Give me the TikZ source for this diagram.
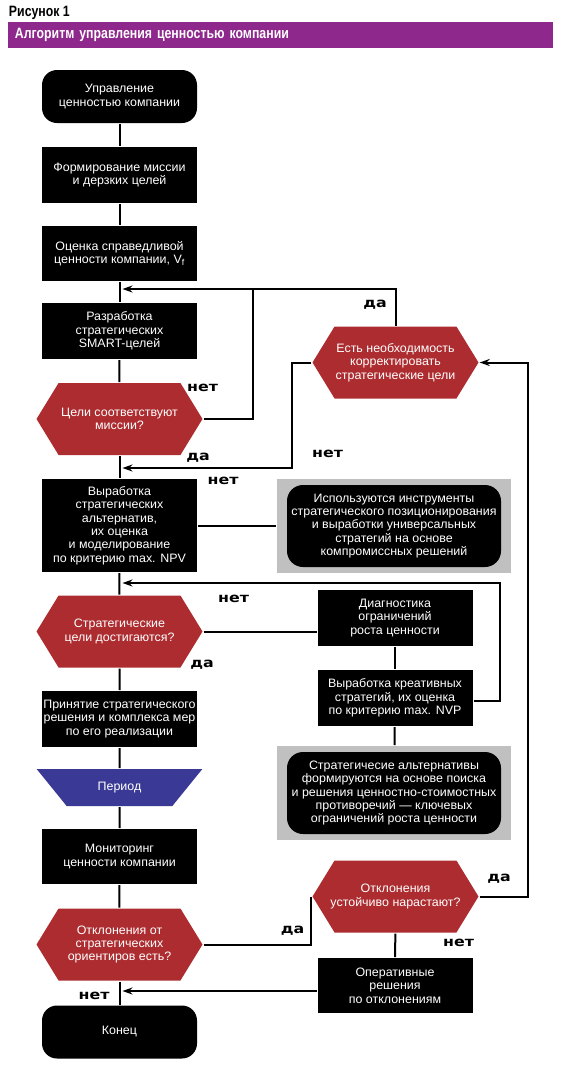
\documentclass[tikz,border=0pt]{standalone}
\usepackage{fontspec}
\setmainfont{Liberation Sans}[FakeStretch=1.02]
\newfontfamily\yesnofont{DejaVu Sans}[FakeStretch=1.2]
\newfontfamily\headfont{Liberation Sans}[FakeStretch=0.82]
\usetikzlibrary{arrows.meta, shapes.symbols, shapes.geometric}

\definecolor{hexred}{RGB}{172,44,48}
\definecolor{periodblue}{RGB}{58,58,150}
\definecolor{bandpurple}{RGB}{142,40,140}
\definecolor{notegray}{RGB}{192,192,192}

\tikzset{
  every node/.style={font=\fontsize{12.2}{13.4}\selectfont, text=white, align=center, inner sep=0pt},
  block/.style={fill=black, minimum width=155pt},
  terminal/.style={fill=black, rounded corners=15pt, minimum width=155pt, minimum height=53pt},
  decision/.style={shape=signal, signal to=east and west, signal pointer angle=117, fill=hexred, inner xsep=-10pt, minimum width=166pt, minimum height=72pt},
  periodbox/.style={trapezium, shape border rotate=180, trapezium left angle=41.4, trapezium right angle=41.4, trapezium stretches=true, fill=periodblue, minimum width=166pt, minimum height=37pt},
  notebg/.style={fill=notegray, minimum width=234pt, minimum height=94pt},
  note/.style={fill=black, rounded corners=16pt, minimum width=214pt, minimum height=82pt},
  yesno/.style={text=black, anchor=base, font=\yesnofont\bfseries\fontsize{13.2}{14}\selectfont},
  arrow/.style={-{Stealth[length=10pt,width=7pt]}}
}

\begin{document}
\begin{tikzpicture}[x=1pt, y=-1pt, line width=2pt]
\useasboundingbox (0,0) rectangle (561,1088);
% Heading and title band
\node[anchor=base west, text=black, font=\headfont\bfseries\fontsize{15}{15}\selectfont] (fig) at (8,16.5) {Рисунок 1};
\node[fill=bandpurple, minimum width=545pt, minimum height=26.5pt, text width=531pt, align=left,
  font=\headfont\bfseries\fontsize{15}{15}\selectfont] (band) at (280.5,35) {Алгоритм управления ценностью компании};
% Main column
\node[terminal] (start) at (119.5,96.5) {Управление\\ценностью компании};
\node[block, minimum height=56pt] (mission) at (119.5,175) {Формирование миссии\\и дерзких целей};
\node[block, minimum height=55pt] (fairvalue) at (119.5,253.5) {Оценка справедливой\\ценности компании, V\textsubscript{f}};
\node[block, minimum height=56pt] (smart) at (119.5,331) {Разработка\\стратегических\\SMART-целей};
\node[decision] (fitcheck) at (119.5,419) {Цели соответствуют\\миссии?};
\node[block, minimum height=93pt] (alternatives) at (119.5,525.5) {Выработка\\стратегических\\альтернатив,\\их оценка\\и моделирование\\по критерию max. NPV};
\node[decision] (goalcheck) at (119.5,631.5) {Стратегические\\цели достигаются?};
\node[block, minimum height=56pt] (decide) at (119.5,719) {Принятие стратегического\\решения и комплекса мер\\по его реализации};
\node[periodbox] (period) at (119.5,787.5) {Период};
\node[block, minimum height=55pt] (monitor) at (119.5,856.5) {Мониторинг\\ценности компании};
\node[decision] (devcheck) at (119.5,944.5) {Отклонения от\\стратегических\\ориентиров есть?};
\node[terminal] (finish) at (119.5,1032) {Конец};
% Right column
\node[decision] (correct) at (395.5,362.5) {Есть необходимость\\корректировать\\стратегические цели};
\node[notebg] (note1bg) at (394,526) {};
\node[note] (note1) at (394,526) {Используются инструменты\\стратегического позиционирования\\и выработки универсальных\\стратегий на основе\\компромиссных решений};
\node[block, minimum height=56pt] (diagnose) at (395,618) {Диагностика\\ограничений\\роста ценности};
\node[block, minimum height=56pt] (creative) at (395,698) {Выработка креативных\\стратегий, их оценка\\по критерию max. NVP};
\node[notebg] (note2bg) at (394,793) {};
\node[note] (note2) at (394,793) {Стратегичесие альтернативы\\формируются на основе поиска\\и решения ценностно-стоимостных\\противоречий — ключевых\\ограничений роста ценности};
\node[decision] (growcheck) at (395.5,896.5) {Отклонения\\устойчиво нарастают?};
\node[block, minimum height=55pt] (operative) at (395,985.5) {Оперативные\\решения\\по отклонениям};
% Straight links down the main column
\draw (start) -- (mission);
\draw (mission) -- (fairvalue);
\draw (fairvalue) -- (smart);
\draw (smart) -- (fitcheck);
\draw (fitcheck) -- (alternatives);
\draw (alternatives) -- (goalcheck);
\draw (goalcheck) -- (decide);
\draw (decide) -- (period);
\draw (period) -- (monitor);
\draw (monitor) -- (devcheck);
\draw (devcheck) -- (finish);
% Points where the loops come back in
\coordinate (in1) at (122.5,289);
\coordinate (in2) at (122.5,468);
\coordinate (in3) at (122.5,583);
\coordinate (in4) at (122.5,991);
\coordinate (join1) at (253,289);
\coordinate (bend1) at (292,468);
\coordinate (bend2) at (500,583);
\coordinate (bend3) at (527.7,896.5);
% Loops
\draw (fitcheck.east) -| (join1);
\draw[arrow] (correct.north) |- (in1);
\draw[arrow] (correct.west) -| (bend1) -- (in2);
\draw (alternatives.east) -- (alternatives.east -| note1bg.west);
\draw (goalcheck.east) -- (goalcheck.east -| diagnose.west);
\draw (diagnose) -- (creative);
\draw[arrow] ([yshift=-3pt]creative.east) -| (bend2) -- (in3);
\draw (creative) -- (note2bg);
\draw (devcheck.east) -| (growcheck.west);
\draw[arrow] (growcheck.east) -- (bend3) |- (correct.east);
\draw (growcheck) -- (operative);
\draw[arrow] ([yshift=-5.5pt]operative.west) -- (in4);
% Yes / no labels
\node[yesno] (fitno) at (202.5,391) {нет};
\node[yesno] (correctyes) at (375,307.5) {да};
\node[yesno] (correctno) at (327.5,457.5) {нет};
\node[yesno] (fityes) at (198,460) {да};
\node[yesno] (extrano) at (223,484.5) {нет};
\node[yesno] (goalno) at (233.5,602.5) {нет};
\node[yesno] (goalyes) at (202,667.5) {да};
\node[yesno] (devyes) at (292.5,933.5) {да};
\node[yesno] (growyes) at (499,881.5) {да};
\node[yesno] (growno) at (458.5,946.5) {нет};
\node[yesno] (devno) at (94,999.5) {нет};
\end{tikzpicture}
\end{document}
